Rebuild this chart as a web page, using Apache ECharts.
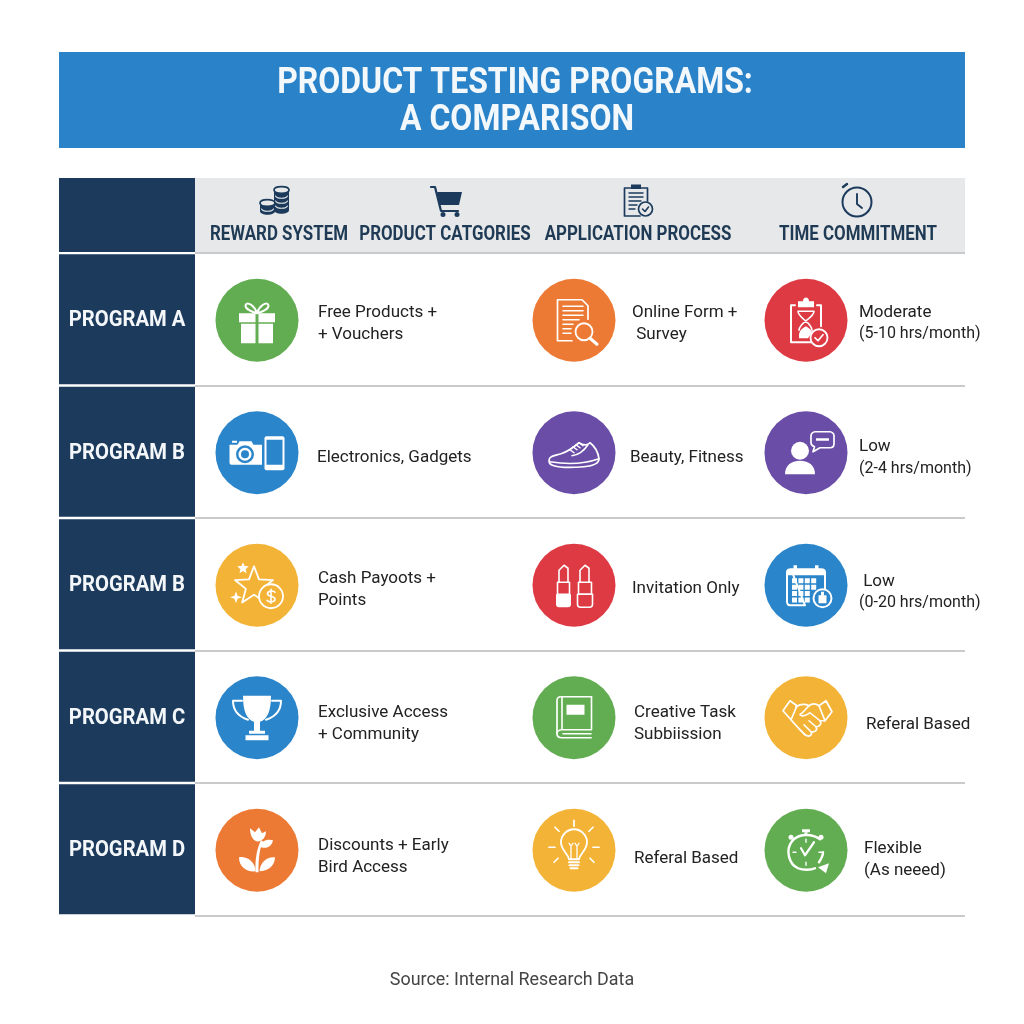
<!DOCTYPE html>
<html>
<head>
<meta charset="utf-8">
<style>html,body{margin:0;padding:0;background:#fff}#chart{width:1024px;height:1024px}</style>
<script src="https://cdn.jsdelivr.net/npm/echarts@6/dist/echarts.min.js"></script>
</head>
<body>
<div id="chart"></div>
<script>
const titleLines = ['PRODUCT TESTING PROGRAMS:', 'A COMPARISON'];
const sourceNote = 'Source: Internal Research Data';
const programs = ['PROGRAM A', 'PROGRAM B', 'PROGRAM B', 'PROGRAM C', 'PROGRAM D'];
const headers = ['REWARD SYSTEM', 'PRODUCT CATGORIES', 'APPLICATION PROCESS', 'TIME COMMITMENT'];
const rewardText = ['Free Products +\n+ Vouchers', 'Electronics, Gadgets', 'Cash Payoots +\nPoints', 'Exclusive Access\n+ Community', 'Discounts + Early\nBird Access'];
const applicationText = ['Online Form +\n Survey', 'Beauty, Fitness', 'Invitation Only', 'Creative Task\nSubbiission', 'Referal Based'];
const timeText = ['Moderate\n(5-10 hrs/month)', 'Low\n(2-4 hrs/month)', ' Low\n(0-20 hrs/month)', 'Referal Based', 'Flexible\n(As neeed)'];
const rewardIcons = ['gift', 'camera', 'stars', 'trophy', 'plant'];
const applicationIcons = ['docSearch', 'shoe', 'lipstick', 'book', 'bulb'];
const timeIcons = ['hourglass', 'person', 'calendar', 'handshake', 'stopwatch'];
const headerIcons = ['coins', 'cart', 'clipboard', 'clock'];

const GREEN = '#62ad52', ORANGE = '#ec7a35', RED = '#dd3a44', BLUE = '#2a85ca', PURPLE = '#6a4da6', YELLOW = '#f3b337';
const NAVY = '#1b3a5c';
const rewardColors = [GREEN, BLUE, YELLOW, BLUE, ORANGE];
const applicationColors = [ORANGE, PURPLE, RED, GREEN, YELLOW];
const timeColors = [RED, PURPLE, BLUE, YELLOW, GREEN];

// page layout, px
const rowsTop = 253, rowsHeight = 662.5;
const circleSize = 83;
const columns = [
    { cx: 257, text: rewardText, icons: rewardIcons, colors: rewardColors, textX: [318, 317, 318, 318, 318], textDy: [3, 5, 4, 6, 6] },
    { cx: 574, text: applicationText, icons: applicationIcons, colors: applicationColors, textX: [632, 630, 632, 634, 634], textDy: [3, 5, 3, 6, 8] },
    { cx: 806, text: timeText, icons: timeIcons, colors: timeColors, textX: [859, 859, 859, 866, 864], textDy: [3, 5, 7, 7, 9] },
];
const headerPos = [[279, 275, 200], [445, 446, 201], [638, 638, 200], [858, 857, 201]];

// icon helpers, coordinates are relative to the icon centre
const F = (d, fill = '#fff') => ({ type: 'path', shape: { pathData: d }, style: { fill: fill } });
const S = (d, w = 1.6, color = '#fff', fill = 'none') => ({
    type: 'path', shape: { pathData: d },
    style: { fill: fill, stroke: color, lineWidth: w, lineCap: 'round', lineJoin: 'round' },
});
const circ = (x, y, r) => `M${x - r} ${y}a${r} ${r} 0 1 0 ${2 * r} 0a${r} ${r} 0 1 0 ${-2 * r} 0Z`;
const rect = (x, y, w, h) => `M${x} ${y}h${w}v${h}h${-w}Z`;
const star = (x, y, R, r) => {
    let d = '';
    for (let i = 0; i < 10; i++) {
        const a = -Math.PI / 2 + i * Math.PI / 5, q = i % 2 ? r : R;
        d += (i ? 'L' : 'M') + (x + q * Math.cos(a)).toFixed(1) + ' ' + (y + q * Math.sin(a)).toFixed(1);
    }
    return d + 'Z';
};
// a stack of coins: dark barrel with pale rims
const coinStack = (x0, x1, top, bottom) => {
    const cx = (x0 + x1) / 2, rx = (x1 - x0) / 2, parts = [];
    parts.push(F(`M${x0} ${top}V${bottom}C${x0} ${bottom + 5} ${x1} ${bottom + 5} ${x1} ${bottom}V${top}Z`, NAVY));
    for (let y = top + 6; y < bottom + 1; y += 5) {
        parts.push(S(`M${x0 + 1.5} ${y}C${x0 + 3} ${y + 3} ${x1 - 3} ${y + 3} ${x1 - 1.5} ${y}`, 1.1, '#e7e8e9'));
    }
    parts.push(S(`M${x0} ${top}C${x0} ${top - 4.5} ${x1} ${top - 4.5} ${x1} ${top}C${x1} ${top + 4.5} ${x0} ${top + 4.5} ${x0} ${top}Z`, 1.7, NAVY, '#e7e8e9'));
    return parts;
};

const icons = {
    gift: () => [
        F(rect(-18, -7, 16.5, 9) + rect(1.5, -7, 16.5, 9) + rect(-16, 3.5, 14.5, 19.5) + rect(1.5, 3.5, 14.5, 19.5)),
        S('M0 -7C-4 -8 -12 -11 -11.5 -15C-10 -20 -2 -14 0 -7C2 -14 10 -20 11.5 -15C12 -11 4 -8 0 -7Z', 2),
    ],
    camera: () => [
        F('M-27.5 -8h8l2 -3.5h12l2 3.5h8.5v20h-30.5a2 2 0 0 1 -2 -2Z'),
        F(rect(-25, -12, 5, 2)),
        F(circ(-12, 1.5, 9), BLUE), F(circ(-12, 1.5, 6.5)), F(circ(-12, 1.5, 4), BLUE),
        F('M9.5 -16.5h16a2 2 0 0 1 2 2v30a2 2 0 0 1 -2 2h-16a2 2 0 0 1 -2 -2v-30a2 2 0 0 1 2 -2Z'),
        F(rect(9.5, -13, 16, 25), BLUE),
    ],
    stars: () => [
        S(star(-3, 1, 20, 8.5), 1.8),
        F(star(-14, -17, 6, 2.8)),
        F('M-21 6L-19.5 10.5L-15 12L-19.5 13.5L-21 18L-22.5 13.5L-27 12L-22.5 10.5Z'),
        S(circ(14, 11, 12), 1.8, '#fff', YELLOW),
        S('M18 7C16 5 10.5 5.5 10.5 8.5C10.5 12 18 10 18 14C18 17 12 17.5 10 15M14 4V18', 1.6),
    ],
    trophy: () => [
        F('M-14 -22H14C14 -6 10 2 3 4V13H8V16H-8V13H-3V4C-10 2 -14 -6 -14 -22Z'),
        F(rect(-11.5, 17.5, 23, 5)),
        S('M-15 -17H-24C-24 -7 -18 -1 -9 2M15 -17H24C24 -7 18 -1 9 2', 2),
    ],
    plant: () => [
        F('M-1.5 22C-2 8 0 -2 4 -10L6 -9C2 0 1.5 10 1.5 22Z'),
        F('M-1.5 21C-10 22 -18 17 -18 7C-10 6 -2 11 -1.5 21Z'),
        F('M2.5 21C10 21 18 16 18 7C10 6 3 12 2.5 21Z'),
        F('M2 -4C6 -11 12 -11 16 -10C15 -4 9 0 2 -4Z'),
        F('M-7 -22L-2 -18L2 -23L5 -17L9 -19C9 -12 4 -8 -1 -9C-5 -11 -7 -16 -7 -22Z'),
    ],
    docSearch: () => [
        S('M-2 20.5H-16.5V-20.5H8L14 -14.5V-1', 1.7),
        S('M-11 -14H9M-11 -9.5H9M-11 -5H9M-11 -0.5H5M-11 4H-1M-11 8.5H-3M-11 13H-3', 1.6),
        S(circ(10, 11.5, 8.5), 1.8),
        S('M16 18L23 24', 3),
    ],
    shoe: () => [
        S('M-25 8C-25 3 -19 3 -13 1C-6 -1 -1 -5 5 -10C8 -8 12 -6 16 -10C20 -7 24 -1 25 6C25 11 20 13 10 14C-2 15 -14 15 -20 13C-24 12 -25 10 -25 8Z', 1.7),
        S('M-24 9C-12 11 8 12 25 6M-4 -3L0 0M-1 -6L3 -3M2 -8L6 -5M5 -10L9 -7M14 -8C10 -2 6 2 -2 3', 1.5),
    ],
    lipstick: () => [
        S('M-15 -3V-15L-10 -20L-6 -17V-3', 1.6),
        S(rect(-16.5, -3, 12, 12), 1.6),
        F('M-18 9H-3V19C-3 21 -4 22 -6 22H-15C-17 22 -18 21 -18 19Z'),
        S('M6 -3V-15L11 -20L15 -17V-3', 1.6),
        S(rect(4.5, -3, 13, 12), 1.6),
        S('M3.5 9H18.5V19C18.5 21 17.5 22 15.5 22H6.5C4.5 22 3.5 21 3.5 19Z', 1.6),
    ],
    book: () => [
        S('M17.5 -21H-13C-16 -21 -17 -19 -17 -17V16C-17 19 -15 20 -12 20H17', 1.7),
        S('M17.5 -21V12H-12C-15 12 -17 14 -17 16M-12 -21V12M-11 16H17', 1.6),
        F(rect(-7.5, -13, 18, 10)),
    ],
    bulb: () => [
        S('M-5 9C-6 3 -13 0 -13 -8C-13 -15 -7 -21 0 -21C7 -21 13 -15 13 -8C13 0 6 3 5 9Z', 1.8),
        S('M-3 9L-3 -4M3 9L3 -4M-3 -4L-5 -7M-3 -4L-1 -7M3 -4L1 -7M3 -4L5 -7', 1.3),
        S('M-5 12H5M-4.5 15H4.5M-3.5 18H3.5', 2),
        S('M0 -24V-30M-15 -19L-19 -23M15 -19L19 -23M-19 -3H-25M19 -3H25M-16 8L-20 12M16 8L20 12', 1.7),
    ],
    hourglass: () => [
        S('M-11 -15H-15V22H9M11 -15H15V6', 2),
        F('M-8 -19H-3C-3 -24 3 -24 3 -19H8V-13H-8Z'),
        S('M-8 -9C-8 -2 6 2 6 10M8 -9C8 -2 -7 2 -7 10M-8 -9H8', 1.6),
        F('M-7 14C-6 9 -2 7 0 6C3 8 6 10 6 12L2 18H-7Z'),
        S(circ(13, 17.5, 8.5), 1.8, '#fff', RED),
        S('M9 17.5L12 20.5L17 14.5', 1.7),
    ],
    person: () => [
        F(circ(-6, -2, 9)),
        F('M-21 21.5C-21 13 -15 8 -6 8C3 8 9 13 9 21.5Z'),
        S('M9 -21H24C26 -21 28 -19 28 -17V-9C28 -6 26 -5 24 -5H14L7 -1L8.5 -6C6 -7 5 -8 5 -10V-17C5 -19 7 -21 9 -21Z', 1.7),
        F(rect(10, -14.5, 13, 2.5)),
    ],
    calendar: () => {
        const cells = [];
        for (let r = 0; r < 4; r++) for (let c = 0; c < 4; c++) {
            if (r < 2 || c < 3) cells.push(rect(-14 + c * 6.4, -7 + r * 6.4, 5, 5));
        }
        return [
            S('M-15 -16H15C17 -16 19 -15 19 -13V5M-1 20H-16C-18 20 -19 18 -19 16V-13C-19 -15 -17 -16 -15 -16Z', 2),
            F('M-19 -13C-19 -15 -17 -16 -15 -16H15C17 -16 19 -15 19 -13V-10H-19Z'),
            F(rect(-12.5, -20, 3.5, 8)), F(rect(9, -20, 3.5, 8)),
            F(cells.join('')),
            S(circ(16.5, 13, 9), 2, '#fff', BLUE),
            F(rect(12.5, 10, 8, 8)), F(rect(15, 6.5, 3, 4)),
        ];
    },
    handshake: () => [
        S('M-23 -7L-16 -17L-9 -12L-15 2ZM26 -6L20 -17L13 -12L19 3Z', 1.7),
        S('M-10 -11C-5 -14 -1 -14 3 -12C7 -15 10 -14 13 -12M-15 2C-10 8 -6 12 -1 17C3 20 7 17 5 14C9 15 12 12 10 9C14 9 16 6 14 3L19 3', 1.7),
        S('M3 -12C-1 -8 -3 -5 -6 -3C-3 0 1 -3 4 -5L14 3M-1 17L-7 11M5 14L-2 7M10 9L3 3', 1.6),
    ],
    stopwatch: () => [
        S('M14 -11C6 -17 -8 -17 -14 -9C-21 0 -17 14 -8 18C-3 20 5 20 9 18', 2.4),
        F(rect(-4, -21, 8, 3)), F(rect(-1.5, -18, 3, 3)),
        F(circ(-15, -13, 2.5)), F(circ(15, -13, 2.5)),
        S('M-5 -2L-1 5L8 -8', 2.2),
        S('M0 -11V-8M0 12V15M-13 2H-10M13 2H16', 1.4),
        S('M13 12C15 9 17 6 17 2', 2.4),
        F('M12 17L23 13L20 23Z'),
    ],
    coins: () => [
        ...coinStack(-1, 14, -10, 10),
        ...coinStack(-15, 0, 3, 11),
    ],
    cart: () => [
        S('M-15 -14H-11L-5 10H12', 2.2, NAVY),
        F('M-9 -9H16L13 4H-6Z', NAVY),
        F(circ(-3, 13.5, 2.5) + circ(11, 13.5, 2.5), NAVY),
    ],
    clipboard: () => [
        S('M2 16H-13.5V-12H9.5V1', 1.7, NAVY),
        F(rect(-7, -15.5, 10, 4.5), NAVY),
        S('M-9 -7H5M-9 -3H5M-9 1H3M-9 5H-1M-9 9H-3', 1.4, NAVY),
        S(circ(7.5, 9, 7), 1.7, NAVY),
        S('M4.5 9L7 11.5L10.5 7', 1.6, NAVY),
    ],
    clock: () => [
        S(circ(0, 1, 14.5), 2, NAVY),
        S('M0 -7V3L5 7', 1.9, NAVY),
        S('M-14 -14L-10 -17', 2.4, NAVY),
    ],
};

const hidden = { show: false };
const rowAxis = (gridIndex, splitLine) => ({
    type: 'category', gridIndex: gridIndex, inverse: true, data: programs,
    axisLine: hidden, axisTick: hidden, axisLabel: hidden,
    splitLine: splitLine ? { show: true, lineStyle: { color: '#c9cacb', width: 2 } } : hidden,
});
const colAxis = (gridIndex, name) => ({
    type: 'category', gridIndex: gridIndex, data: [name],
    axisLine: hidden, axisTick: hidden, axisLabel: hidden, splitLine: hidden,
});
// the hrs/month lines are set tighter in the original
const cellLabel = (t) => t.split('\n').map(line => line.includes('hrs/month') ? `{p|${line}}` : line).join('\n');

// grid 0: program column, grid 1: row dividers, grids 2-4: icon columns
const grids = [
    { left: 59, width: 136, top: rowsTop, height: rowsHeight },
    { left: 195, width: 770, top: rowsTop, height: rowsHeight },
];
const xAxes = [colAxis(0, 'Program'), colAxis(1, 'Rows')];
const yAxes = [rowAxis(0, false), rowAxis(1, true)];
const series = [];

series.push({
    type: 'custom', name: 'Programs', xAxisIndex: 0, yAxisIndex: 0, silent: true,
    data: programs.map((p, i) => [0, i]),
    renderItem: (params, api) => {
        const c = api.coord([0, api.value(1)]);
        const band = api.size([0, 1])[1];
        return {
            type: 'group', children: [
                { type: 'rect', shape: { x: 59, y: c[1] - band / 2 + 1.2, width: 136, height: band - 2.4 }, style: { fill: NAVY } },
                {
                    type: 'text', x: 127, y: c[1] + 1.5, scaleX: 0.92,
                    style: { text: programs[params.dataIndex], font: '700 22px Roboto', fill: '#f4f7fa', align: 'center', verticalAlign: 'middle' },
                },
            ],
        };
    },
});

columns.forEach((col, k) => {
    const g = k + 2;
    grids.push({ left: col.cx - circleSize / 2, width: circleSize, top: rowsTop + 1, height: rowsHeight });
    xAxes.push(colAxis(g, headers[k]));
    yAxes.push(rowAxis(g, false));
    series.push({
        type: 'scatter', xAxisIndex: g, yAxisIndex: g, symbol: 'circle', symbolSize: circleSize, silent: true,
        data: col.text.map((t, i) => ({
            value: [0, i],
            itemStyle: { color: col.colors[i], opacity: 1 },
            label: {
                show: true, position: 'right', distance: col.textX[i] - col.cx - circleSize / 2,
                offset: [0, col.textDy[i]], formatter: cellLabel(t),
                fontFamily: 'Roboto', fontSize: 17, lineHeight: 22, color: '#222', align: 'left',
                rich: { p: { fontFamily: 'Roboto', fontSize: 16, lineHeight: 22, color: '#222' } },
            },
        })),
    });
    series.push({
        type: 'custom', xAxisIndex: g, yAxisIndex: g, silent: true, z: 5,
        data: col.icons.map((n, i) => [0, i]),
        renderItem: (params, api) => {
            const c = api.coord([0, api.value(1)]);
            return { type: 'group', x: c[0], y: c[1], children: icons[col.icons[params.dataIndex]]() };
        },
    });
});

// header strip labels and pictograms
series.push({
    type: 'custom', coordinateSystem: 'none', name: 'Headers', silent: true, z: 5,
    data: headers.map((h, i) => [i]),
    renderItem: (params) => {
        const pos = headerPos[params.dataIndex];
        return {
            type: 'group', children: [
                { type: 'group', x: pos[1], y: pos[2], children: icons[headerIcons[params.dataIndex]]() },
                {
                    type: 'text', x: pos[0], y: 235, scaleX: 0.805,
                    style: { text: headers[params.dataIndex], font: '700 21px Roboto', fill: '#1f3a55', align: 'center', verticalAlign: 'middle' },
                },
            ],
        };
    },
});

const chart = echarts.init(document.getElementById('chart'), null, { renderer: 'canvas' });
chart.setOption({
    animation: false,
    backgroundColor: '#fff',
    grid: grids, xAxis: xAxes, yAxis: yAxes, series: series,
    graphic: [
        { type: 'rect', silent: true, shape: { x: 59, y: 52, width: 906, height: 96 }, style: { fill: '#2a83c9' } },
        { type: 'rect', silent: true, shape: { x: 59, y: 178, width: 136, height: 74 }, style: { fill: NAVY } },
        { type: 'rect', silent: true, shape: { x: 195, y: 178, width: 770, height: 74 }, style: { fill: '#e7e8e9' } },
        {
            type: 'text', silent: true, x: 515, y: 84, scaleX: 0.864,
            style: { text: titleLines[0], font: '700 37px Roboto', fill: '#f2f8fc', align: 'center', verticalAlign: 'middle' },
        },
        {
            type: 'text', silent: true, x: 517, y: 121, scaleX: 0.864,
            style: { text: titleLines[1], font: '700 37px Roboto', fill: '#f2f8fc', align: 'center', verticalAlign: 'middle' },
        },
        {
            type: 'text', silent: true, x: 512, y: 981,
            style: { text: sourceNote, font: '400 17.9px Roboto', fill: '#444', align: 'center', verticalAlign: 'middle' },
        },
    ],
});
</script>
</body>
</html>
